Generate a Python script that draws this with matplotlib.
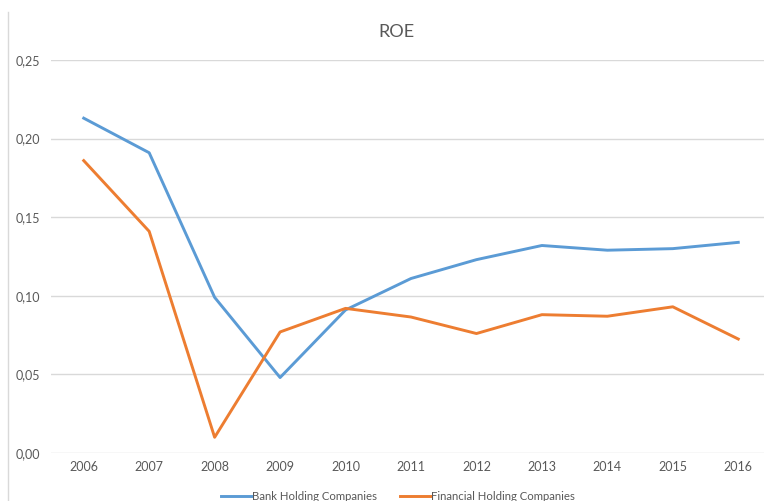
import matplotlib.pyplot as plt
from matplotlib.lines import Line2D
from matplotlib.ticker import FuncFormatter

years = [2006, 2007, 2008, 2009, 2010, 2011, 2012, 2013, 2014, 2015, 2016]
bank = [0.213, 0.191, 0.099, 0.048, 0.091, 0.111, 0.123, 0.132, 0.129, 0.130, 0.134]
financial = [0.186, 0.141, 0.010, 0.077, 0.092, 0.0865, 0.076, 0.088, 0.087, 0.093, 0.0725]
yticks = [0.00, 0.05, 0.10, 0.15, 0.20, 0.25]

plt.rcParams['font.family'] = ['Lato', 'DejaVu Sans']
text_grey = '#595959'

fig = plt.figure(figsize=(7.64, 5.01), dpi=100)
# plot area runs a bit past the right edge of the figure
ax = fig.add_axes([51 / 764, 48 / 501, 720 / 764, 393 / 501])

ax.plot(years, bank, color='#5B9BD5', lw=2.1, label='Bank Holding Companies')
ax.plot(years, financial, color='#ED7D31', lw=2.1, label='Financial Holding Companies')

ax.set_xlim(2005.5, 2016.5)
ax.set_ylim(0, 0.25)
ax.set_xticks(years)
ax.set_yticks(yticks)
ax.yaxis.set_major_formatter(FuncFormatter(lambda v, p: f'{v:.2f}'.replace('.', ',')))
ax.grid(axis='y', color='#D9D9D9', lw=1)
ax.set_axisbelow(True)
for s in ax.spines.values():
    s.set_visible(False)
ax.tick_params(length=0, colors=text_grey, labelsize=9)
ax.tick_params(axis='y', pad=8)
ax.tick_params(axis='x', pad=6)

fig.text(396 / 764, 1 - 32 / 501, 'ROE', ha='center', va='center',
         fontsize=13, color=text_grey)

fig.legend(loc='center', bbox_to_anchor=(398 / 764, 1 - 496 / 501), ncol=2,
           frameon=False, fontsize=8.2, labelcolor=text_grey,
           handlelength=2.7, handletextpad=0.05, columnspacing=2.0)

# chart border on the left
fig.add_artist(Line2D([8 / 764, 8 / 764], [0, 1 - 12 / 501],
                      transform=fig.transFigure, color='#D9D9D9', lw=1))

fig.savefig('out.png', dpi=100)
